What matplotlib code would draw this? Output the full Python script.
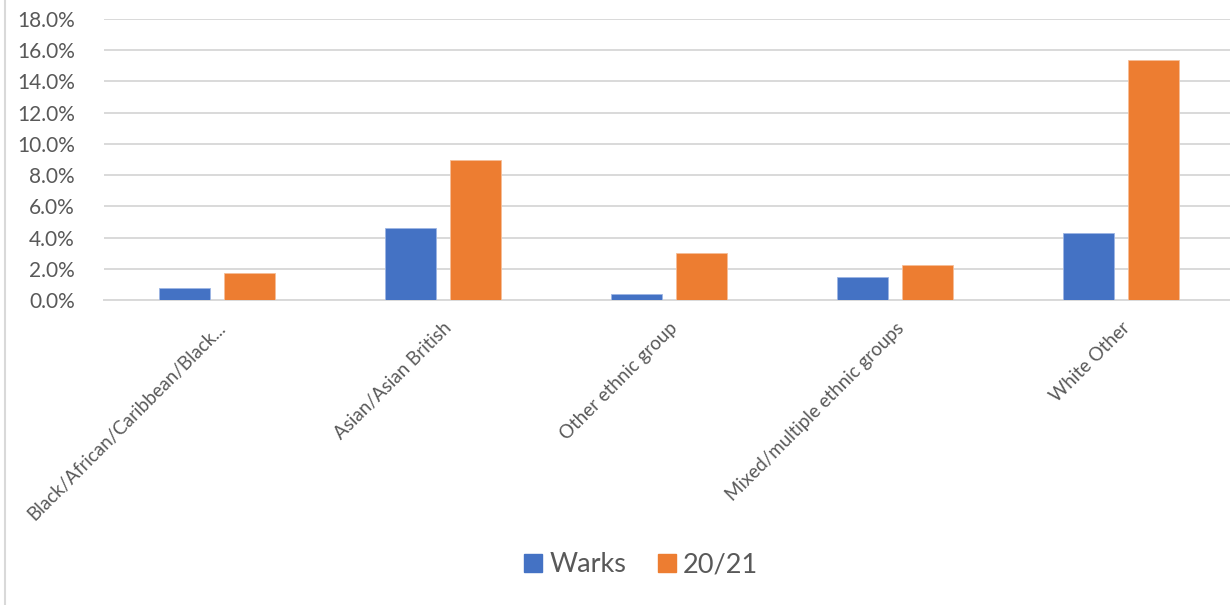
import matplotlib.pyplot as plt
import numpy as np
from matplotlib.lines import Line2D

# ethnic group share, Warks vs 20/21
groups = ['Black/African/Caribbean/Black...', 'Asian/Asian British', 'Other ethnic group',
          'Mixed/multiple ethnic groups', 'White Other']
warks = [0.008, 0.046, 0.004, 0.015, 0.043]
yr2021 = [0.0175, 0.0895, 0.030, 0.0222, 0.1535]

plt.rcParams['font.family'] = ['Lato', 'DejaVu Sans']
grey_txt = '#595959'
grid_col = '#D9D9D9'

fig = plt.figure(figsize=(12.3, 6.05), dpi=100)
ax = fig.add_axes([104/1230, 1 - 300/605, 1130/1230, 281/605])

x = np.arange(len(groups))
w = 0.226
ax.bar(x - 0.029 - w/2, warks, w, color='#4472C4', edgecolor='#9DB5E4', linewidth=0.6, label='Warks', zorder=3)
ax.bar(x + 0.029 + w/2, yr2021, w, color='#ED7D31', edgecolor='#F6BE98', linewidth=0.6, label='20/21', zorder=3)

ax.set_xlim(-0.5, len(groups) - 0.5)
ax.set_ylim(0, 0.18)
ax.set_yticks(np.arange(0, 0.181, 0.02))
ax.set_yticklabels(['%.1f%%' % (v * 100) for v in np.arange(0, 0.181, 0.02)])
ax.yaxis.grid(True, color=grid_col, linewidth=1.4, zorder=0)
ax.set_axisbelow(True)
for s in ['top', 'right', 'left']:
    ax.spines[s].set_visible(False)
ax.spines['bottom'].set_color(grid_col)
ax.spines['bottom'].set_linewidth(1.4)
ax.tick_params(axis='y', length=0, pad=21, labelsize=15, labelcolor=grey_txt)
ax.tick_params(axis='x', length=0, pad=14)

ax.set_xticks(x)
ax.set_xticklabels(groups, rotation=45, ha='right', va='top', rotation_mode='anchor',
                   fontsize=13.5, color=grey_txt)

handles = [Line2D([], [], marker='s', linestyle='none', markersize=13, color='#4472C4'),
           Line2D([], [], marker='s', linestyle='none', markersize=13, color='#ED7D31')]
fig.legend(handles, ['Warks', '20/21'], loc='center', bbox_to_anchor=(639/1230, 1 - 565/605),
           ncol=2, frameon=False, fontsize=19.5, labelcolor=grey_txt,
           handletextpad=0.1, columnspacing=1.0, handlelength=1.0)

# chart border on the left
fig.add_artist(Line2D([4.5/1230, 4.5/1230], [0, 1], color=grid_col, linewidth=1.5))

fig.savefig('out.png', dpi=100)
